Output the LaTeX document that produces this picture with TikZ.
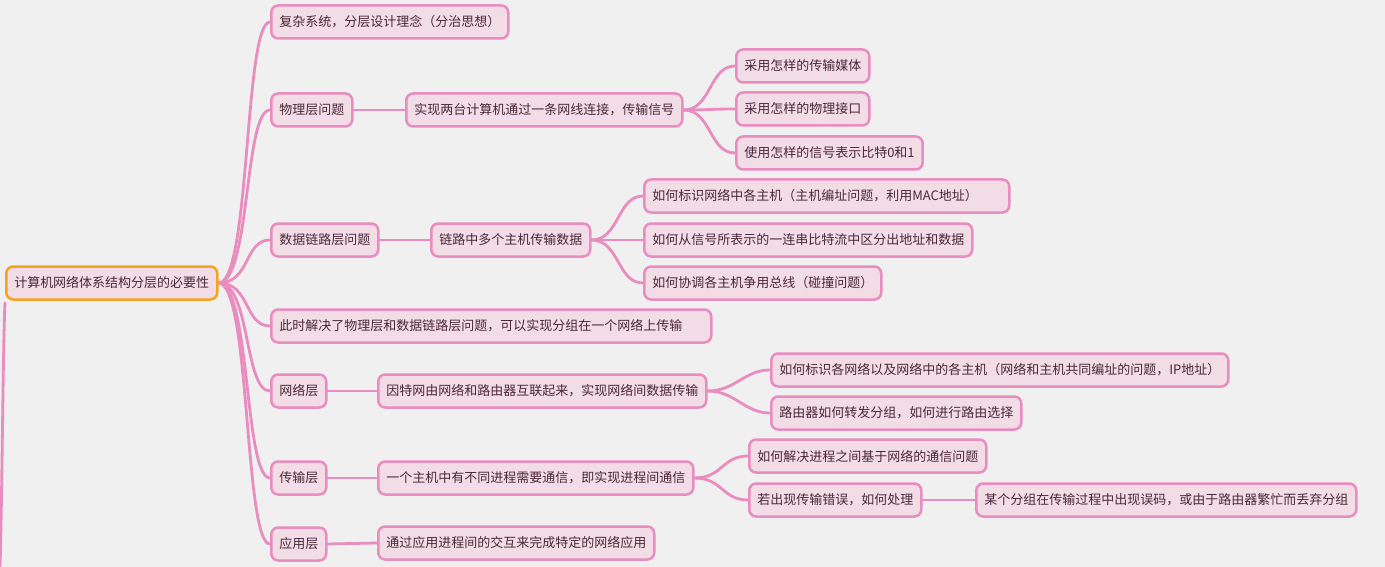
\documentclass[tikz,border=0pt]{standalone}
\usepackage{fontspec}
\setmainfont{Noto Sans CJK SC}
\usetikzlibrary{backgrounds}
\definecolor{bgc}{HTML}{F0F0F0}
\definecolor{pfill}{HTML}{F2DCE6}
\definecolor{pline}{HTML}{E98CBF}
\definecolor{orange}{HTML}{F5A31E}
\definecolor{txt}{HTML}{4A2838}
\begin{document}
\begin{tikzpicture}[x=1pt,y=-1pt,
  box/.style={draw=pline, line width=2.5pt, fill=pfill, rounded corners=7pt,
    minimum height=33pt, inner xsep=8pt, inner ysep=0pt, text=txt, anchor=west,
    font=\fontsize{13pt}{15pt}\selectfont},
  rootbox/.style={box, draw=orange},
  conn/.style={draw=pline, line width=2.8pt, line cap=round}]
\useasboundingbox (0,0) rectangle (1385,567);
% root
\node[rootbox] (root) at (5,283) {计算机网络体系结构分层的必要性};
% level 1
\node[box] (a1) at (270,22) {复杂系统，分层设计理念（分治思想）};
\node[box] (a2) at (270,110) {物理层问题};
\node[box] (a3) at (270,240) {数据链路层问题};
\node[box, text width=424pt, align=left] (a4) at (270,326) {此时解决了物理层和数据链路层问题，可以实现分组在一个网络上传输};
\node[box] (a5) at (270,391) {网络层};
\node[box] (a6) at (270,478) {传输层};
\node[box] (a7) at (270,544) {应用层};
% level 2
\node[box] (b2) at (405,110) {实现两台计算机通过一条网线连接，传输信号};
\node[box] (c1) at (735,66) {采用怎样的传输媒体};
\node[box] (c2) at (735,109) {采用怎样的物理接口};
\node[box] (c3) at (735,153) {使用怎样的信号表示比特0和1};
\node[box] (b3) at (430,240) {链路中多个主机传输数据};
\node[box, text width=349pt, align=left] (d1) at (643,196) {如何标识网络中各主机（主机编址问题，利用MAC地址）};
\node[box] (d2) at (643,240) {如何从信号所表示的一连串比特流中区分出地址和数据};
\node[box] (d3) at (643,283) {如何协调各主机争用总线（碰撞问题）};
\node[box] (b5) at (377,391) {因特网由网络和路由器互联起来，实现网络间数据传输};
\node[box] (e1) at (770,370) {如何标识各网络以及网络中的各主机（网络和主机共同编址的问题，IP地址）};
\node[box] (e2) at (770,413) {路由器如何转发分组，如何进行路由选择};
\node[box] (b6) at (377,478) {一个主机中有不同进程需要通信，即实现进程间通信};
\node[box] (f1) at (748,456) {如何解决进程之间基于网络的通信问题};
\node[box] (f2) at (748,500) {若出现传输错误，如何处理};
\node[box] (g1) at (975,500) {某个分组在传输过程中出现误码，或由于路由器繁忙而丢弃分组};
\node[box] (b7) at (377,543) {通过应用进程间的交互来完成特定的网络应用};
\coordinate (lstub) at (0,567);
\begin{pgfonlayer}{background}
\fill[bgc] (0,0) rectangle (1385,567);
\foreach \n in {a1,a2,a3,a4,a5,a6,a7}
  \draw[conn] (root.east) .. controls +(32,0) and +(-26,0) .. (\n.west);
\draw[conn] (root.south west) ++(0,2) coordinate (rs) .. controls +(-2,40) and +(2,-60) .. (lstub);
\draw[conn] (a2.east) -- (b2.west);
\draw[conn] (a3.east) -- (b3.west);
\draw[conn] (a5.east) -- (b5.west);
\draw[conn] (a6.east) -- (b6.west);
\draw[conn] (a7.east) -- (b7.west);
\foreach \n in {c1,c2,c3}
  \draw[conn] (b2.east) .. controls +(28,0) and +(-26,0) .. (\n.west);
\foreach \n in {d1,d2,d3}
  \draw[conn] (b3.east) .. controls +(28,0) and +(-26,0) .. (\n.west);
\foreach \n in {e1,e2}
  \draw[conn] (b5.east) .. controls +(28,0) and +(-26,0) .. (\n.west);
\foreach \n in {f1,f2}
  \draw[conn] (b6.east) .. controls +(28,0) and +(-26,0) .. (\n.west);
\draw[conn] (f2.east) -- (g1.west);
\end{pgfonlayer}
\end{tikzpicture}
\end{document}
